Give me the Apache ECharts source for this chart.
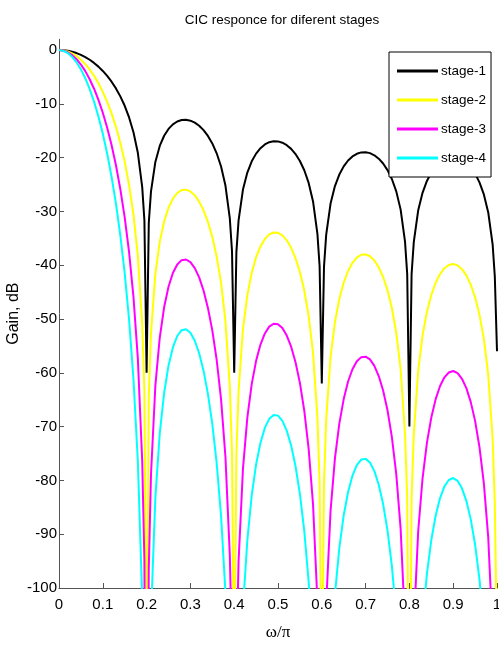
<!DOCTYPE html>
<html>
<head>
<meta charset="utf-8">
<script src="https://cdn.jsdelivr.net/npm/echarts@6/dist/echarts.min.js"></script>
<style>html,body{margin:0;padding:0;background:#fff}#c{width:499px;height:646px}</style>
</head>
<body>
<div id="c"></div>
<script>
// normalized frequency (omega/pi)
const freq = [
  0,0.01,0.02,0.03,0.04,0.05,0.06,0.07,0.08,0.09,0.10,0.11,0.12,0.13,0.14,0.15,0.16,0.17,0.18,0.19,
  0.195,0.2,0.205,
  0.21,0.22,0.23,0.24,0.25,0.26,0.27,0.28,0.29,0.30,0.31,0.32,0.33,0.34,0.35,0.36,0.37,0.38,0.39,
  0.395,0.4,0.405,
  0.41,0.42,0.43,0.44,0.45,0.46,0.47,0.48,0.49,0.50,0.51,0.52,0.53,0.54,0.55,0.56,0.57,0.58,0.59,
  0.595,0.6,0.605,
  0.61,0.62,0.63,0.64,0.65,0.66,0.67,0.68,0.69,0.70,0.71,0.72,0.73,0.74,0.75,0.76,0.77,0.78,0.79,
  0.795,0.8,0.805,
  0.81,0.82,0.83,0.84,0.85,0.86,0.87,0.88,0.89,0.90,0.91,0.92,0.93,0.94,0.95,0.96,0.97,0.98,0.99,
  0.995,1.0
];
const stage1 = [
  0,-0.04,-0.14,-0.32,-0.57,-0.90,-1.31,-1.81,-2.40,-3.09,-3.89,-4.82,-5.89,-7.14,-8.62,-10.37,-12.53,-15.29,-19.11,-25.48,
  -31.69,-60,-32.11,
  -26.32,-20.80,-17.83,-15.94,-14.67,-13.82,-13.29,-13.02,-12.98,-13.14,-13.51,-14.09,-14.90,-15.98,-17.37,-19.20,-21.65,-25.20,-31.31,
  -37.40,-60,-37.58,
  -31.68,-25.95,-22.78,-20.70,-19.26,-18.25,-17.56,-17.14,-16.96,-16.99,-17.23,-17.69,-18.38,-19.34,-20.63,-22.35,-24.71,-28.15,-34.17,
  -40.22,-62,-40.32,
  -34.37,-28.55,-25.30,-23.15,-21.63,-20.54,-19.78,-19.29,-19.03,-19.00,-19.17,-19.57,-20.20,-21.10,-22.32,-23.98,-26.28,-29.67,-35.63,
  -41.65,-70,-41.69,
  -35.72,-29.85,-26.55,-24.34,-22.77,-21.63,-20.82,-20.28,-19.98,-19.89,-20.02,-20.37,-20.95,-21.80,-22.98,-24.60,-26.85,-30.20,-36.11,
  -42.11,-56
];
const stage2 = [
  0,-0.08,-0.28,-0.64,-1.14,-1.80,-2.62,-3.62,-4.80,-6.18,-7.78,-9.64,-11.78,-14.28,-17.24,-20.74,-25.06,-30.58,-38.22,-50.96,
  -63.38,-120,-64.22,
  -52.64,-41.60,-35.66,-31.88,-29.34,-27.64,-26.58,-26.04,-25.96,-26.28,-27.02,-28.18,-29.80,-31.96,-34.74,-38.40,-43.30,-50.40,-62.62,
  -74.80,-120,-75.16,
  -63.36,-51.90,-45.56,-41.40,-38.52,-36.50,-35.12,-34.28,-33.92,-33.98,-34.46,-35.38,-36.76,-38.68,-41.26,-44.70,-49.42,-56.30,-68.34,
  -80.44,-124,-80.64,
  -68.74,-57.10,-50.60,-46.30,-43.26,-41.08,-39.56,-38.58,-38.06,-38.00,-38.34,-39.14,-40.40,-42.20,-44.64,-47.96,-52.56,-59.34,-71.26,
  -83.30,-140,-83.38,
  -71.44,-59.70,-53.10,-48.68,-45.54,-43.26,-41.64,-40.56,-39.96,-39.78,-40.04,-40.74,-41.90,-43.60,-45.96,-49.20,-53.70,-60.40,-72.22,
  -84.22,-112
];
const stage3 = [
  0,-0.12,-0.42,-0.96,-1.71,-2.70,-3.93,-5.43,-7.20,-9.27,-11.67,-14.46,-17.67,-21.42,-25.86,-31.11,-37.59,-45.87,-57.33,-76.44,
  -95.07,-180,-96.33,
  -78.96,-62.40,-53.49,-47.82,-44.01,-41.46,-39.87,-39.06,-38.94,-39.42,-40.53,-42.27,-44.70,-47.94,-52.11,-57.60,-64.95,-75.60,-93.93,
  -112.2,-180,-112.74,
  -95.04,-77.85,-68.34,-62.10,-57.78,-54.75,-52.68,-51.42,-50.88,-50.97,-51.69,-53.07,-55.14,-58.02,-61.89,-67.05,-74.13,-84.45,-102.51,
  -120.66,-186,-120.96,
  -103.11,-85.65,-75.90,-69.45,-64.89,-61.62,-59.34,-57.87,-57.09,-57.00,-57.51,-58.71,-60.60,-63.30,-66.96,-71.94,-78.84,-89.01,-106.89,
  -124.95,-210,-125.07,
  -107.16,-89.55,-79.65,-73.02,-68.31,-64.89,-62.46,-60.84,-59.94,-59.67,-60.06,-61.11,-62.85,-65.40,-68.94,-73.80,-80.55,-90.60,-108.33,
  -126.33,-168
];
const stage4 = [
  0,-0.16,-0.56,-1.28,-2.28,-3.60,-5.24,-7.24,-9.60,-12.36,-15.56,-19.28,-23.56,-28.56,-34.48,-41.48,-50.12,-61.16,-76.44,-101.92,
  -126.76,-240,-128.44,
  -105.28,-83.20,-71.32,-63.76,-58.68,-55.28,-53.16,-52.08,-51.92,-52.56,-54.04,-56.36,-59.60,-63.92,-69.48,-76.80,-86.60,-100.80,-125.24,
  -149.6,-240,-150.32,
  -126.72,-103.80,-91.12,-82.80,-77.04,-73.00,-70.24,-68.56,-67.84,-67.96,-68.92,-70.76,-73.52,-77.36,-82.52,-89.40,-98.84,-112.60,-136.68,
  -160.88,-248,-161.28,
  -137.48,-114.20,-101.20,-92.60,-86.52,-82.16,-79.12,-77.16,-76.12,-76.00,-76.68,-78.28,-80.80,-84.40,-89.28,-95.92,-105.12,-118.68,-142.52,
  -166.6,-280,-166.76,
  -142.88,-119.40,-106.20,-97.36,-91.08,-86.52,-83.28,-81.12,-79.92,-79.56,-80.08,-81.48,-83.80,-87.20,-91.92,-98.40,-107.40,-120.80,-144.44,
  -168.44,-224
];
const seriesNames = ['stage-1','stage-2','stage-3','stage-4'];
const seriesColors = ['#000000','#ffff00','#ff00ff','#00ffff'];
const xTicks = [0,0.1,0.2,0.3,0.4,0.5,0.6,0.7,0.8,0.9,1];
const yTicks = [-100,-90,-80,-70,-60,-50,-40,-30,-20,-10,0];

const FONT = '"Liberation Sans",Arial,sans-serif';
const allStages = [stage1, stage2, stage3, stage4];
const chart = echarts.init(document.getElementById('c'), null, {renderer: 'canvas'});
chart.setOption({
  animation: false,
  backgroundColor: '#ffffff',
  title: {
    text: 'CIC responce for diferent stages',
    left: 277, top: 8, textAlign: 'center',
    textStyle: {fontFamily: FONT, fontSize: 13.5, fontWeight: 'normal', color: '#000'}
  },
  legend: {
    orient: 'vertical',
    left: 389, top: 52,
    backgroundColor: '#ffffff',
    borderColor: '#000', borderWidth: 1, borderRadius: 0,
    padding: [12, 5, 12, 8],
    itemWidth: 41, itemHeight: 3, itemGap: 15,
    icon: 'rect',
    textStyle: {fontFamily: FONT, fontSize: 13.5, color: '#000', padding: [0,0,0,-2]},
    data: seriesNames,
    z: 10
  },
  grid: {left: 59, right: 2, top: 39.24, bottom: 58, containLabel: false, outerBoundsMode: 'none'},
  xAxis: {
    type: 'value', min: 0, max: 1, interval: 0.1,
    name: 'ω/π', nameLocation: 'middle', nameGap: 36,
    nameTextStyle: {fontFamily: '"Liberation Serif","DejaVu Serif",serif', fontSize: 17, color: '#000'},
    axisLine: {onZero: false, lineStyle: {color: '#555', width: 1}},
    axisTick: {inside: true, length: 5, customValues: xTicks, lineStyle: {color: '#555'}},
    axisLabel: {customValues: xTicks, margin: 9, fontFamily: FONT, fontSize: 15, color: '#000',
      formatter: v => String(v)},
    splitLine: {show: false}
  },
  yAxis: {
    type: 'value', min: -100, max: 2, interval: 10,
    name: 'Gain, dB', nameLocation: 'middle', nameGap: 37, nameMoveOverlap: false,
    nameTextStyle: {fontFamily: FONT, fontSize: 16, color: '#000'},
    axisLine: {onZero: false, lineStyle: {color: '#555', width: 1}},
    axisTick: {inside: true, length: 5, customValues: yTicks, lineStyle: {color: '#555'}},
    axisLabel: {customValues: yTicks, margin: 2, fontFamily: FONT, fontSize: 15, color: '#000'},
    splitLine: {show: false}
  },
  series: seriesNames.map((n, k) => ({
    name: n, type: 'line', showSymbol: false, symbol: 'none',
    clip: true,
    color: seriesColors[k],
    lineStyle: {width: 2, color: seriesColors[k]},
    data: freq.map((f, i) => [f, allStages[k][i]])
  }))
});
</script>
</body>
</html>
